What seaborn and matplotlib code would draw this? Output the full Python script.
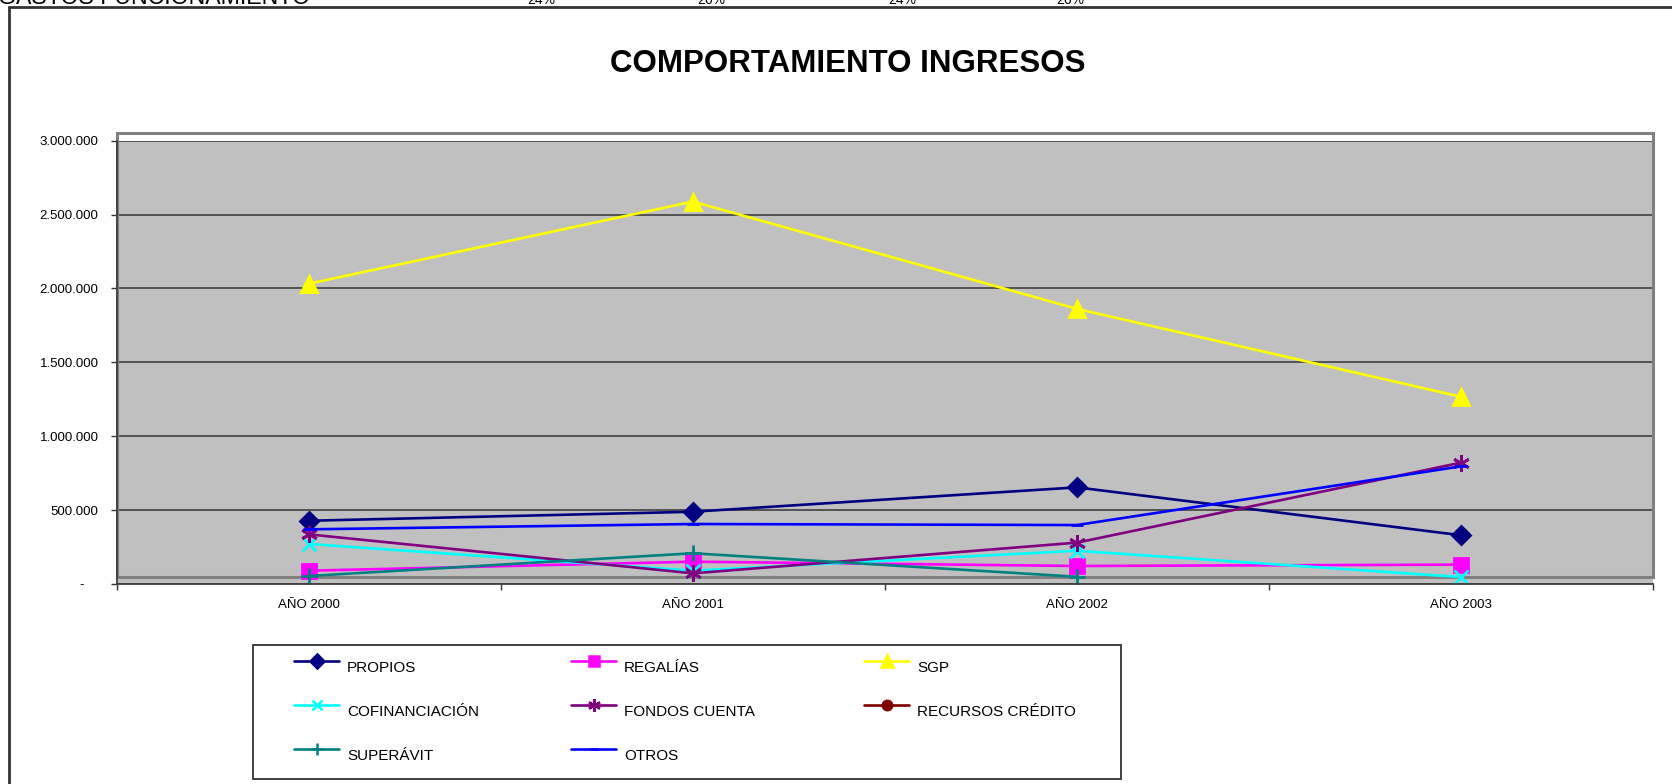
"""
Comportamiento ingresos 2000-2003 - line chart (Excel style).
Run: python plot.py
"""

import numpy as np
import pandas as pd
import matplotlib.pyplot as plt
from matplotlib.lines import Line2D
from matplotlib.patches import Rectangle
from matplotlib.ticker import FuncFormatter, FixedLocator
import seaborn as sns

sns.set_theme(style="white")
plt.rcParams.update({
    "font.family": ["Liberation Sans", "DejaVu Sans"],
    "text.color": "black",
    "xtick.color": "black",
    "ytick.color": "black",
})

years = ["AÑO 2000", "AÑO 2001", "AÑO 2002", "AÑO 2003"]

propios = [428000, 489000, 654000, 330000]
regalias = [90000, 151000, 122000, 131000]
sgp = [2032000, 2588000, 1862000, 1267000]
cofinanciacion = [271000, 90000, 225000, 47000]
fondos_cuenta = [336000, 72000, 280000, 821000]
recursos_credito = [np.nan, np.nan, np.nan, np.nan]
superavit = [54000, 208000, 49000, np.nan]
otros = [370000, 406000, 399000, 796000]

top_labels = ["GASTOS FUNCIONAMIENTO", "24%", "26%", "24%", "26%"]

# name, values, colour, marker, marker size
series = [
    ("PROPIOS", propios, "#000080", "D", 9),
    ("REGALÍAS", regalias, "#FF00FF", "s", 10),
    ("SGP", sgp, "#FFFF00", "^", 11),
    ("COFINANCIACIÓN", cofinanciacion, "#00FFFF", "x", 10),
    ("FONDOS CUENTA", fondos_cuenta, "#800080", (6, 2, 0), 12),
    ("RECURSOS CRÉDITO", recursos_credito, "#800000", "o", 9),
    ("SUPERÁVIT", superavit, "#008080", "+", 12),
    ("OTROS", otros, "#0000FF", "_", 8),
]

W, H = 1672, 784
fig = plt.figure(figsize=(W / 100, H / 100), dpi=100)
ax = fig.add_axes([116.7 / W, 1 - 584 / H, (1653 - 116.7) / W, 443.3 / H])
ax.set_facecolor("#C0C0C0")

x = np.arange(len(years))
for name, vals, color, marker, ms in series:
    df = pd.DataFrame({"x": x, "y": vals}).dropna()
    if len(df):
        sns.lineplot(data=df, x="x", y="y", ax=ax, color=color, linewidth=1.9,
                     marker=marker, markersize=ms, markeredgecolor=color,
                     markerfacecolor=color, markeredgewidth=2.0, legend=False)

ax.set_xlim(-0.5, 3.5)
ax.set_ylim(0, 3000000)
ax.set_xlabel("")
ax.set_ylabel("")

# axis styling
ax.set_xticks(x)
ax.set_xticklabels(years, fontsize=9.5)
ax.xaxis.set_minor_locator(FixedLocator([-0.5, 0.5, 1.5, 2.5, 3.5]))
ax.tick_params(axis="x", which="major", length=0, pad=11)
ax.tick_params(axis="x", which="minor", length=4, width=1, color="#333333",
               direction="out", bottom=True)
ax.set_yticks(np.arange(0, 3000001, 500000))
ax.yaxis.set_major_formatter(FuncFormatter(
    lambda v, p: "-    " if v == 0 else f"{v:,.0f}".replace(",", ".")))
ax.tick_params(axis="y", length=4, width=1, color="#333333", direction="out",
               left=True, labelsize=9.5, pad=9)

ax.grid(axis="y", color="#404040", linewidth=1.2)
ax.grid(axis="x", visible=False)
ax.set_axisbelow(True)
for side in ["top", "right"]:
    ax.spines[side].set_visible(False)
for side in ["left", "bottom"]:
    ax.spines[side].set_color("#404040")
    ax.spines[side].set_linewidth(1.3)

# excel plot area border
ax.add_patch(Rectangle((0, 0.0165), 1, 1.0167 - 0.0165, transform=ax.transAxes,
                       fill=False, edgecolor="#808080", linewidth=2.2,
                       clip_on=False, zorder=1))

# chart frame
fig.patches.append(Rectangle((9 / W, -0.1), 1.2, 1 - 7 / H + 0.1,
                             transform=fig.transFigure, fill=False,
                             edgecolor="#333333", linewidth=2))

fig.text(848 / W, 1 - 64 / H, "COMPORTAMIENTO INGRESOS", ha="center",
         va="center", fontsize=22.5, fontweight="bold")

# clipped cells above the chart
top_x = [-2, 541, 711, 902, 1070]
top_fs = [16.7, 10, 10, 10, 10]
for lbl, tx, fs in zip(top_labels, top_x, top_fs):
    fig.text(tx / W, 1 - 3.5 / H, lbl, ha="left" if tx < 0 else "center",
             va="baseline", fontsize=fs)

# legend box + entries, laid out row by row like excel
fig.patches.append(Rectangle((253 / W, 1 - 779 / H), (1121 - 253) / W,
                             (779 - 645) / H, transform=fig.transFigure,
                             fill=False, edgecolor="#333333", linewidth=1.3))
col_x = [294, 571, 864]
row_y = [661, 705, 749]
for i, (name, vals, color, marker, ms) in enumerate(series):
    r, c = divmod(i, 3)
    x0, y0 = col_x[c], row_y[r]
    fig.add_artist(Line2D([x0 / W, (x0 + 45) / W], [1 - y0 / H, 1 - y0 / H],
                          transform=fig.transFigure, color=color, linewidth=1.9))
    fig.add_artist(Line2D([(x0 + 22.5) / W], [1 - y0 / H],
                          transform=fig.transFigure, color=color, marker=marker,
                          markersize=ms * 0.75, markeredgecolor=color,
                          markerfacecolor=color, markeredgewidth=1.8))
    fig.text((x0 + 53) / W, 1 - (y0 + 7) / H, name, ha="left", va="center",
             fontsize=11)

fig.savefig("out.png", dpi=100)
